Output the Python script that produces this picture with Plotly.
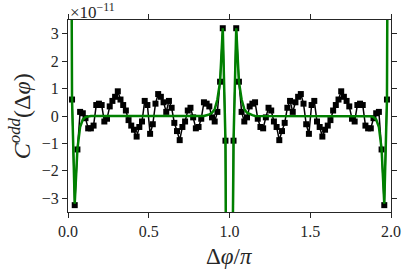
import plotly.graph_objects as go

# bin centres of delta-phi / pi (120 bins over [0, 2])
n_bins = 120
dphi = [(k + 0.5) / 60 for k in range(n_bins)]

# measured C^odd (units of 1e-11)
c_odd = [
    25, 0.6, -3.25, -1.22, 0.15, 0.1, -0.08, -0.45, -0.45, -0.35,
    0.4, 0.45, 0.4, -0.2, -0.1, 0.35, 0.55, 0.7, 0.9, 0.6,
    0.4, 0.2, -0.15, -0.35, -0.5, -0.75, -0.4, -0.2, 0.55, 0.4,
    -0.65, -0.3, 0.45, 0.8, 0.7, 0.5, 0.15, 0.55, 0.3, -0.25,
    -0.55, -0.88, -0.4, -0.2, 0.2, 0.3, -0.05, -0.45, -0.4, -0.1,
    0.5, 0.45, 0.35, -0.05, -0.2, 0.15, 1.25, 3.2, -0.9, -25,
    -25, -0.9, 3.2, 1.25, 0.15, -0.2, -0.05, 0.35, 0.45, 0.5,
    -0.1, -0.4, -0.45, -0.05, 0.3, 0.2, -0.2, -0.4, -0.88, -0.55,
    -0.25, 0.3, 0.55, 0.15, 0.5, 0.7, 0.8, 0.45, -0.3, -0.65,
    0.4, 0.55, -0.2, -0.4, -0.75, -0.5, -0.35, -0.15, 0.2, 0.4,
    0.6, 0.9, 0.7, 0.55, 0.35, -0.1, -0.2, 0.4, 0.45, 0.4,
    -0.35, -0.45, -0.45, -0.08, 0.1, 0.15, -1.22, -3.25, 0.6, 25,
]

# model curve (units of 1e-11)
c_model = [
    25, 0.6, -3.2, -1.2, -0.4, -0.13, -0.04, -0.01, 0, 0,
    0, 0, 0, 0, 0, 0, 0, 0, 0, 0,
    0, 0, 0, 0, 0, 0, 0, 0, 0, 0,
    0, 0, 0, 0, 0, 0, 0, 0, 0, 0,
    0, 0, 0, 0, 0, 0, 0, 0, 0, 0,
    0, 0.03, 0.06, 0.12, 0.25, 0.6, 1.25, 3.2, -0.9, -25,
    -25, -0.9, 3.2, 1.25, 0.6, 0.25, 0.12, 0.06, 0.03, 0,
    0, 0, 0, 0, 0, 0, 0, 0, 0, 0,
    0, 0, 0, 0, 0, 0, 0, 0, 0, 0,
    0, 0, 0, 0, 0, 0, 0, 0, 0, 0,
    0, 0, 0, 0, 0, 0, 0, 0, 0, 0,
    0, 0, -0.01, -0.04, -0.13, -0.4, -1.2, -3.2, 0.6, 25,
]

x_ticks = [0.0, 0.5, 1.0, 1.5, 2.0]
x_tick_labels = ["0.0", "0.5", "1.0", "1.5", "2.0"]
y_ticks = [-3, -2, -1, 0, 1, 2, 3]

FONT = "Liberation Serif"
AX = "#262626"

fig = go.Figure()
fig.add_trace(go.Scatter(
    x=dphi, y=c_odd, mode="lines+markers",
    line=dict(color="black", width=1.5),
    marker=dict(symbol="square", size=6, color="black"),
    showlegend=False,
))
fig.add_trace(go.Scatter(
    x=dphi, y=c_model, mode="lines",
    line=dict(color="#008000", width=2.5),
    showlegend=False,
))

axis_common = dict(
    showgrid=False, zeroline=False, showline=True, linecolor=AX, linewidth=1.2,
    mirror="ticks", ticks="outside", ticklen=5, tickwidth=1, tickcolor=AX,
    tickfont=dict(family=FONT, size=16, color=AX), automargin=False,
)
fig.update_xaxes(range=[0, 2], tickvals=x_ticks, ticktext=x_tick_labels, **axis_common)
fig.update_yaxes(range=[-3.5, 3.5], tickvals=y_ticks, **axis_common)

fig.update_layout(
    template="none",
    width=407, height=271,
    margin=dict(l=68, r=16, t=20, b=59, autoexpand=False),
    plot_bgcolor="white", paper_bgcolor="white",
    annotations=[
        dict(text="<i>C</i><sup><i>odd</i></sup>(Δ<i>φ</i>)", xref="paper", yref="paper",
             x=-0.148, y=0.5, xanchor="center", yanchor="middle", textangle=-90,
             showarrow=False, font=dict(family=FONT, size=24, color=AX)),
        dict(text="Δ<i>φ</i>/<i>π</i>", xref="paper", yref="paper",
             x=0.5, y=-0.23, xanchor="center", yanchor="middle",
             showarrow=False, font=dict(family=FONT, size=23, color=AX)),
        dict(text="×10<sup>−11</sup>", xref="paper", yref="paper",
             x=0, y=1, xanchor="left", yanchor="bottom", yshift=-4,
             showarrow=False, font=dict(family=FONT, size=17, color=AX)),
    ],
)

fig.write_html(
    "out.html",
    config={"displayModeBar": False},
    post_script="document.body.style.margin='0';document.body.style.overflow='hidden';",
)
